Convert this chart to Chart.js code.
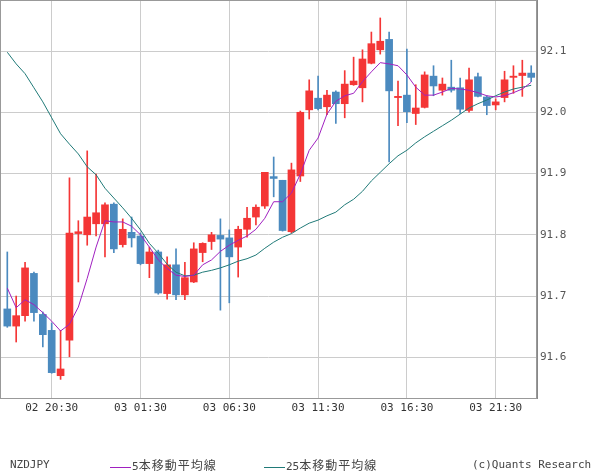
<!DOCTYPE html>
<html>
<head>
<meta charset="utf-8">
<script src="https://cdn.jsdelivr.net/npm/chart.js@4/dist/chart.umd.min.js"></script>
<style>
  body { margin: 0; background: #fff; }
  #wrap { position: relative; width: 600px; height: 475px; }
  .foot { position: absolute; top: 458px; font: 11px "DejaVu Sans Mono", monospace; color: #444; white-space: nowrap; line-height: 14px; }
  .jp { font-family: "Noto Sans CJK JP", sans-serif; font-size: 12px; letter-spacing: 1px; }
  .ln { display: inline-block; width: 21px; height: 0; vertical-align: middle; border-top: 1px solid; margin-right: 1px; }
</style>
</head>
<body>
<div id="wrap">
  <canvas id="chart" width="600" height="475"></canvas>
  <div class="foot" style="left:10px">NZDJPY</div>
  <div class="foot" style="left:110px"><span class="ln" style="border-color:#a020c0"></span>5<span class="jp">本移動平均線</span></div>
  <div class="foot" style="left:264px"><span class="ln" style="border-color:#207a78"></span>25<span class="jp">本移動平均線</span></div>
  <div class="foot" style="left:472px">(c)Quants Research</div>
</div>
<script>
// 30分足 02 18:00 ～ 03 23:30
const open = [91.679,91.651,91.668,91.737,91.670,91.644,91.570,91.628,91.802,91.800,
  91.818,91.818,91.850,91.784,91.804,91.798,91.753,91.772,91.704,91.751,
  91.702,91.723,91.771,91.789,91.799,91.795,91.780,91.809,91.829,91.847,
  91.895,91.889,91.805,91.896,92.004,92.023,92.009,92.033,92.014,92.045,
  92.040,92.080,92.102,92.119,92.024,92.028,91.998,92.008,92.059,92.036,
  92.041,92.040,92.003,92.058,92.025,92.012,92.024,92.057,92.060,92.064];
const high = [91.772,91.700,91.755,91.739,91.674,91.656,91.644,91.893,91.823,91.937,
  91.899,91.852,91.852,91.826,91.829,91.803,91.780,91.775,91.764,91.777,
  91.755,91.787,91.787,91.804,91.826,91.808,91.814,91.845,91.849,91.902,
  91.927,91.889,91.917,92.002,92.053,92.059,92.036,92.035,92.068,92.090,
  92.102,92.131,92.154,92.131,92.051,92.103,92.045,92.066,92.076,92.056,
  92.085,92.056,92.072,92.064,92.027,92.022,92.067,92.076,92.085,92.076];
const low = [91.649,91.625,91.659,91.659,91.617,91.574,91.564,91.601,91.723,91.783,
  91.798,91.764,91.771,91.780,91.780,91.751,91.730,91.703,91.695,91.694,
  91.694,91.722,91.756,91.776,91.677,91.689,91.731,91.796,91.816,91.843,
  91.862,91.806,91.803,91.887,91.989,92.004,91.996,91.982,91.991,92.044,
  92.017,92.079,92.095,91.919,91.978,91.983,91.980,92.007,92.027,92.028,
  92.033,91.998,92.000,92.025,91.996,92.004,92.017,92.031,92.026,92.050];
const close = [91.651,91.668,91.746,91.673,91.637,91.575,91.581,91.803,91.805,91.829,
  91.836,91.849,91.777,91.809,91.795,91.753,91.772,91.705,91.751,91.702,
  91.730,91.777,91.786,91.800,91.793,91.764,91.809,91.827,91.845,91.902,
  91.892,91.807,91.906,92.000,92.035,92.006,92.028,92.014,92.046,92.051,
  92.087,92.112,92.116,92.035,92.026,92.001,92.007,92.061,92.043,92.046,
  92.036,92.005,92.053,92.026,92.011,92.017,92.053,92.059,92.064,92.057];

// 移動平均線
const ma5 = [91.713,91.681,91.694,91.686,91.673,91.659,91.643,91.654,91.682,91.729,
  91.780,91.823,91.821,91.821,91.814,91.800,91.780,91.759,91.745,91.734,
  91.732,91.734,91.751,91.759,91.773,91.783,91.791,91.798,91.809,91.827,
  91.854,91.854,91.868,91.899,91.938,91.958,91.997,92.018,92.027,92.031,
  92.050,92.066,92.081,92.079,92.076,92.061,92.041,92.028,92.028,92.033,
  92.039,92.038,92.036,92.032,92.027,92.025,92.027,92.032,92.038,92.049];
const ma25 = [92.098,92.079,92.063,92.040,92.017,91.991,91.965,91.948,91.932,91.911,
  91.898,91.876,91.860,91.844,91.827,91.808,91.786,91.770,91.752,91.739,
  91.733,91.734,91.739,91.742,91.746,91.751,91.757,91.761,91.767,91.778,
  91.788,91.796,91.802,91.811,91.819,91.824,91.831,91.837,91.849,91.858,
  91.871,91.888,91.902,91.916,91.929,91.938,91.950,91.960,91.969,91.978,
  91.987,91.997,92.007,92.014,92.020,92.027,92.033,92.038,92.041,92.044];

// 目盛り
const tickIdx = [5, 15, 25, 35, 45, 55];
const tickLabels = ['02 20:30', '03 01:30', '03 06:30', '03 11:30', '03 16:30', '03 21:30'];
const yTicks = [91.6, 91.7, 91.8, 91.9, 92.0, 92.1];

const UP = '#f43636';
const DOWN = '#4b8abf';

let bodies = open.map((o, i) => ({ x: i, y: [o, close[i]] }));
let wicks = open.map((o, i) => ({ x: i, y: [low[i], high[i]] }));
let colors = open.map((o, i) => close[i] >= o ? UP : DOWN);

const frame = {
  id: 'frame',
  afterDraw(chart) {
    let a = chart.chartArea;
    let ctx = chart.ctx;
    ctx.save();
    ctx.strokeStyle = '#999';
    ctx.lineWidth = 1;
    ctx.strokeRect(a.left + 0.5, a.top + 0.5, a.right - a.left - 1, a.bottom - a.top);
    ctx.restore();
  }
};

Chart.defaults.font.family = '"DejaVu Sans Mono", monospace';
Chart.defaults.font.size = 11;

new Chart(document.getElementById('chart'), {
  type: 'bar',
  data: {
    datasets: [
      { type: 'line', data: ma5.map((v, i) => ({ x: i, y: v })), borderColor: '#a020c0', borderWidth: 1, pointRadius: 0, tension: 0, order: 0 },
      { type: 'line', data: ma25.map((v, i) => ({ x: i, y: v })), borderColor: '#207a78', borderWidth: 1, pointRadius: 0, tension: 0, order: 1 },
      { data: bodies, backgroundColor: colors, barThickness: 7, minBarLength: 1, grouped: false, order: 2 },
      { data: wicks, backgroundColor: colors, barThickness: 1, grouped: false, order: 3 }
    ]
  },
  options: {
    responsive: false,
    animation: false,
    layout: { padding: 0 },
    plugins: { legend: { display: false }, tooltip: { enabled: false } },
    scales: {
      x: {
        type: 'linear',
        offset: false,
        min: -0.822,
        max: 59.653,
        afterBuildTicks: s => { s.ticks = tickIdx.map(v => ({ value: v })); },
        afterFit: s => { s.height = 77; s.paddingLeft = 0; s.paddingRight = 0; },
        ticks: { callback: (v) => tickLabels[tickIdx.indexOf(v)], color: '#333', padding: 4, maxRotation: 0, autoSkip: false },
        grid: { color: '#cccccc', drawTicks: false, offset: false },
        border: { display: false }
      },
      y: {
        position: 'right',
        min: 91.5336,
        max: 92.1833,
        afterBuildTicks: s => { s.ticks = yTicks.map(v => ({ value: v })); },
        afterFit: s => { s.width = 63; s.paddingTop = 0; s.paddingBottom = 0; },
        ticks: { callback: v => v.toFixed(1), color: '#555', padding: 3 },
        grid: { color: '#cccccc', drawTicks: false },
        border: { display: true, color: '#888' }
      }
    }
  },
  plugins: [frame]
});
</script>
</body>
</html>
